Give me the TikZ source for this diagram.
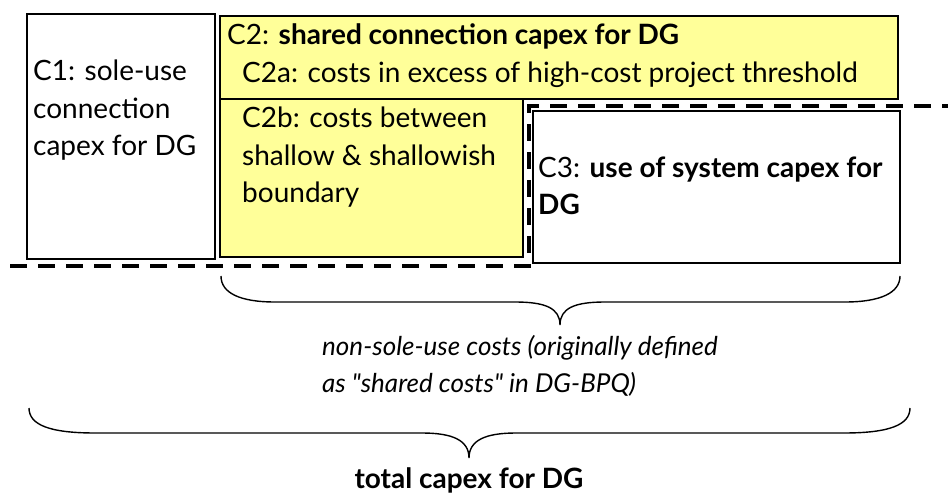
\documentclass[tikz,border=0pt]{standalone}
\usepackage{fontspec}
\setmainfont{Lato}[Ligatures=TeXOff]
\definecolor{cyel}{HTML}{FFFF99}
\begin{document}
\begin{tikzpicture}[x=1pt,y=-1pt,
  box/.style={draw=black, line width=1.6pt, inner sep=0pt, outer sep=0pt, anchor=north west},
  yel/.style={box, fill=cyel},
  txt/.style={inner sep=0pt, anchor=base west, align=left, font=\fontsize{28}{37.5}\selectfont},
  cut/.style={line width=4.5pt, dash pattern=on 17pt off 11pt},
  brace/.style={line width=1.4pt}]
\useasboundingbox (0,0) rectangle (948,494);
% boxes
\node[yel, minimum width=678pt, minimum height=83pt] (c2) at (220,16) {};
\node[yel, minimum width=303pt, minimum height=158pt] (c2b) at (220,99) {};
\node[box, minimum width=188pt, minimum height=245pt] (c1) at (27,14) {};
\node[box, minimum width=367pt, minimum height=152pt] (c3) at (533,111) {};
% texts (multi-line nodes: base = last line)
\node[txt] (t1) at (33,156) {C1: sole-use\\connection\\capex for DG};
\node[txt] (t2) at (227,45) {C2: \textbf{shared connection capex for DG}};
\node[txt] (t2a) at (242,83) {C2a: costs in excess of high-cost project threshold};
\node[txt] (t2b) at (242,203) {C2b: costs between\\shallow \& shallowish\\boundary};
\node[txt] (t3) at (538,215) {C3: \textbf{use of system capex for}\\\textbf{DG}};
\node[txt, font=\fontsize{26}{37}\selectfont\itshape] (tn) at (322,392) {non-sole-use costs (originally defined\\as "shared costs" in DG-BPQ)};
\node[txt, anchor=base] (tt) at (469,488) {\textbf{total capex for DG}};
% dashed boundary
\coordinate (d0) at (10,266);
\coordinate (d1) at (529,266);
\coordinate (d2) at (529,106);
\coordinate (d3) at (948,106);
\draw[cut] (d0) -- (d1) -- (d2) -- (d3);
% braces
\coordinate (b1l) at (221,276);
\coordinate (b1r) at (900,276);
\coordinate (b1t) at (560,325);
\draw[brace] (b1l) .. controls (221,293) and (240,302) .. (275,302) -- (515,302)
  .. controls (545,302) and (560,308) .. (b1t)
  .. controls (560,308) and (575,302) .. (605,302) -- (845,302)
  .. controls (880,302) and (900,293) .. (b1r);
\coordinate (b2l) at (29,408);
\coordinate (b2r) at (910,408);
\coordinate (b2t) at (469,458);
\draw[brace] (b2l) .. controls (29,425) and (50,433) .. (95,433) -- (422,433)
  .. controls (452,433) and (469,440) .. (b2t)
  .. controls (469,440) and (486,433) .. (516,433) -- (844,433)
  .. controls (889,433) and (910,425) .. (b2r);
\end{tikzpicture}
\end{document}
